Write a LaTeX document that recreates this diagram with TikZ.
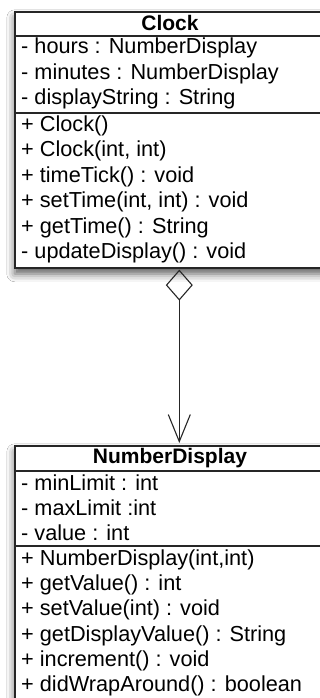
\documentclass[tikz,border=0pt]{standalone}
\usepackage{fontspec}
\setmainfont{Liberation Sans}
\usetikzlibrary{arrows.meta,shadows.blur}
\begin{document}
\begin{tikzpicture}[x=1pt,y=-1pt,
  box/.style={draw=black!85, line width=1.6pt, fill=white, rectangle, inner sep=0pt, anchor=north west,
    blur shadow={shadow xshift=0pt, shadow yshift=-6pt, shadow blur radius=8pt, shadow opacity=65}},
  sep/.style={draw=black!85, line width=1.4pt},
  classtitle/.style={font=\fontsize{21}{25}\selectfont\bfseries, inner sep=0pt, anchor=center},
  member/.style={font=\fontsize{21.7}{25}\selectfont, inner sep=0pt, anchor=west},
  assoc/.style={draw=black!85, line width=1.1pt,
    {Diamond[open,length=31pt,width=27pt,line width=1.1pt]}-{Straight Barb[length=27pt,width=22pt,line width=1.1pt]}}
]
\useasboundingbox (0,0) rectangle (320,698);
\clip (0,0) rectangle (320,698);
\fill[white] (0,0) rectangle (320,698);

% Clock class
\node[box, minimum width=313pt, minimum height=256pt] (clock) at (14,11) {};
\draw[sep] (clock.west |- 0,36) -- (clock.east |- 0,36);
\draw[sep] (clock.west |- 0,113) -- (clock.east |- 0,113);
\node[classtitle] (clocktitle) at (170,23) {Clock};
\node[member] (c1) at (21,48) {- hours : NumberDisplay};
\node[member] (c2) at (21,73.5) {- minutes : NumberDisplay};
\node[member] (c3) at (21,99) {- displayString : String};
\node[member] (c4) at (21,126) {+ Clock()};
\node[member] (c5) at (21,151) {+ Clock(int, int)};
\node[member] (c6) at (21,176.5) {+ timeTick() : void};
\node[member] (c7) at (21,202) {+ setTime(int, int) : void};
\node[member] (c8) at (21,227.5) {+ getTime() : String};
\node[member] (c9) at (21,253) {- updateDisplay() : void};

% NumberDisplay class
\node[box, minimum width=313pt, minimum height=280pt] (nd) at (14,445) {};
\draw[sep] (nd.west |- 0,471) -- (nd.east |- 0,471);
\draw[sep] (nd.west |- 0,546) -- (nd.east |- 0,546);
\node[classtitle] (ndtitle) at (170,458) {NumberDisplay};
\node[member] (n1) at (21,483) {- minLimit : int};
\node[member] (n2) at (21,508) {- maxLimit :int};
\node[member] (n3) at (21,533) {- value : int};
\node[member] (n4) at (21,560) {+ NumberDisplay(int,int)};
\node[member] (n5) at (21,585) {+ getValue() : int};
\node[member] (n6) at (21,610) {+ setValue(int) : void};
\node[member] (n7) at (21,635.5) {+ getDisplayValue() : String};
\node[member] (n8) at (21,661) {+ increment() : void};
\node[member] (n9) at (21,686) {+ didWrapAround() : boolean};

% aggregation
\draw[assoc, shorten <=1pt, shorten >=2pt] ([xshift=8pt]clock.south) -- ([xshift=8pt]nd.north);
\end{tikzpicture}
\end{document}
